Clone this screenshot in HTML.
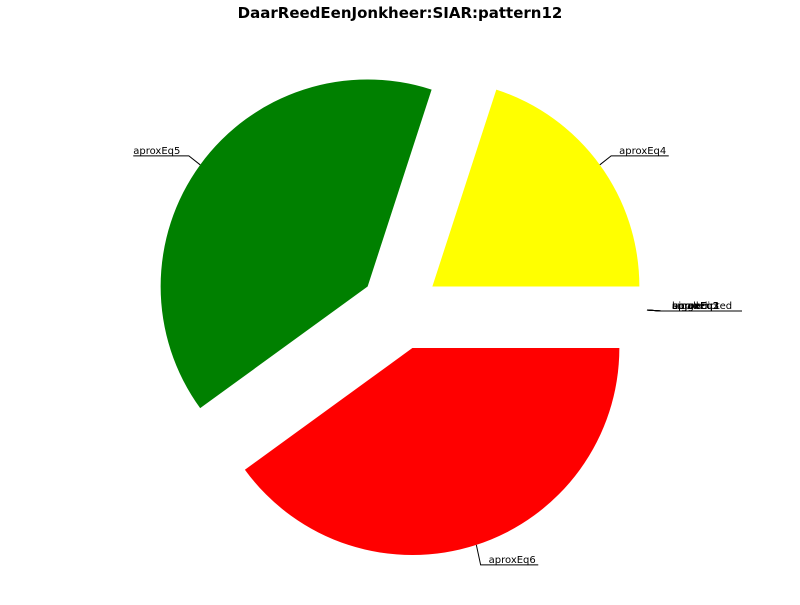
<!DOCTYPE html>
<html><head><meta charset="utf-8"><style>
body{margin:0;background:#fff}
svg text{font-family:"DejaVu Sans","Liberation Sans",sans-serif}
</style></head><body>
<svg id="chart" width="800" height="600" viewBox="0 0 800 600" xmlns="http://www.w3.org/2000/svg">
<text x="400" y="18" text-anchor="middle" font-size="15" font-weight="bold">DaarReedEenJonkheer:SIAR:pattern12</text>
<g id="slices"></g>
</svg>
<script>
const categories = ["aproxEq4","aproxEq5","aproxEq6","unpredicted","aproxEq1","aproxEq2","aproxEq3","bigger","smaller"];
const values = [20, 40, 40, 0, 0, 0, 0, 0, 0];
const colors = ["#ffff00","#008000","#ff0000","#0000ff","#00bfbf","#bf00bf","#000000","#808080","#ffa500"];
const cx = 400, cy = 310, R = 207, explode = 40;
const g = document.getElementById('slices');
const NS = 'http://www.w3.org/2000/svg';
const total = values.reduce((a,b)=>a+b,0);
let start = 0;
categories.forEach((cat,i)=>{
  const sweep = values[i]/total*360;
  const mid = (start + sweep/2) * Math.PI/180;
  const ox = cx + explode*Math.cos(mid), oy = cy - explode*Math.sin(mid);
  if (sweep > 0) {
    const a0 = start*Math.PI/180, a1 = (start+sweep)*Math.PI/180;
    const p = document.createElementNS(NS,'path');
    const large = sweep > 180 ? 1 : 0;
    p.setAttribute('d', `M${ox},${oy} L${ox+R*Math.cos(a0)},${oy-R*Math.sin(a0)} A${R},${R} 0 ${large} 0 ${ox+R*Math.cos(a1)},${oy-R*Math.sin(a1)} Z`);
    p.setAttribute('fill', colors[i]);
    
    
    g.appendChild(p);
  }
  const s = Math.sin(mid), c = Math.cos(mid);
  const sx = ox + R*c, sy = oy - R*s;
  const ex = sx + 14*c, ey = sy - (s >= 0 ? 17 : 20)*s + 1;
  const right = c >= 0;
  const tw = cat.length*6.2;
  let tx, lx0, lx1;
  if (sweep > 0) {
    tx = right ? ex + 2 : ex - 2 - tw;
    lx1 = right ? tx + tw : tx;
    tx = right ? tx + 6 : tx - 4;
    lx1 = right ? lx1 + 6 : lx1 - 4;
  } else {
    tx = ex + 11; lx1 = 742;
  }
  const line = document.createElementNS(NS,'polyline');
  line.setAttribute('points', `${sx},${sy} ${ex},${ey} ${lx1},${ey}`);
  line.setAttribute('fill','none');
  line.setAttribute('stroke','#000');
  line.setAttribute('stroke-width','1');
  
  
  g.appendChild(line);
  const t = document.createElementNS(NS,'text');
  t.setAttribute('x', tx);
  t.setAttribute('y', ey-2);
  t.setAttribute('font-size','10');
  t.textContent = cat;
  
  
  g.appendChild(t);
  start += sweep;
});
</script>
</body></html>
